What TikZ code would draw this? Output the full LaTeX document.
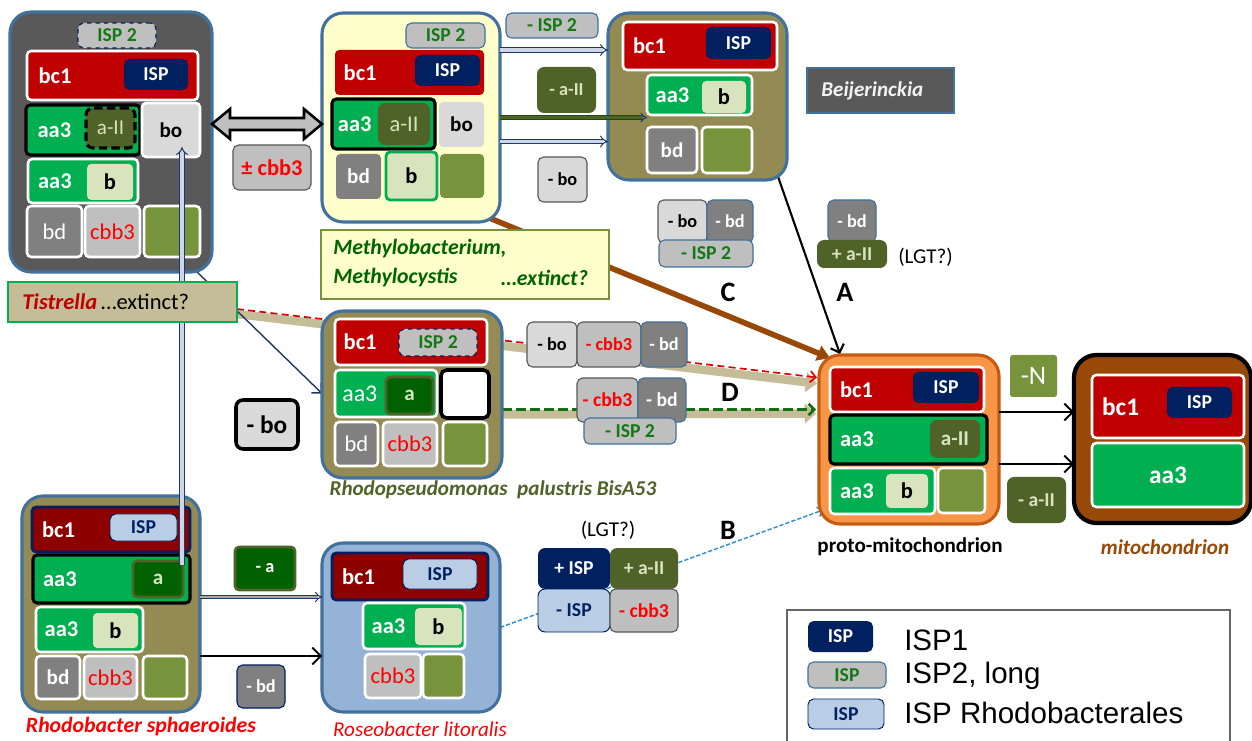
\documentclass[tikz,border=0pt]{standalone}
\usepackage{fontspec}
\setmainfont{Carlito}
\newfontfamily\arialf{Liberation Sans}
\usetikzlibrary{arrows.meta,calc}
\newcommand\fsz[1]{\fontsize{#1}{#1}\selectfont}
\newcommand\bx[7]{\node[#1, minimum width={(#4-#2)*0.025cm}, minimum height={(#5-#3)*0.025cm}] (#6) at ({(#2+#4)/2},{(#3+#5)/2}) {#7};}
\pgfdeclarelayer{back}
\pgfdeclarelayer{bg}
\pgfsetlayers{back,bg,main}
\definecolor{bord}{RGB}{65,113,156}
\definecolor{dgray}{RGB}{89,89,89}
\definecolor{cred}{RGB}{192,0,0}
\definecolor{navy}{RGB}{0,32,96}
\definecolor{cgreen}{RGB}{0,176,80}
\definecolor{dolive}{RGB}{79,98,40}
\definecolor{lgreen}{RGB}{215,228,189}
\definecolor{lgray}{RGB}{217,217,217}
\definecolor{mgray}{RGB}{128,128,128}
\definecolor{sgray}{RGB}{191,191,191}
\definecolor{olsq}{RGB}{119,147,60}
\definecolor{tanb}{RGB}{148,138,84}
\definecolor{lyellow}{RGB}{255,255,204}
\definecolor{sand}{RGB}{196,189,151}
\definecolor{dred}{RGB}{140,0,0}
\definecolor{lblue}{RGB}{185,205,229}
\definecolor{rblue}{RGB}{149,179,215}
\definecolor{orng}{RGB}{247,150,70}
\definecolor{orbd}{RGB}{197,90,17}
\definecolor{brwn}{RGB}{152,72,7}
\definecolor{dkgreen}{RGB}{0,97,0}
\definecolor{ispgreen}{RGB}{20,120,20}
\definecolor{methgreen}{RGB}{0,100,0}
\definecolor{alight}{RGB}{215,228,189}
\definecolor{dotblue}{RGB}{46,139,216}
\definecolor{dblue}{RGB}{31,56,100}
\definecolor{pale}{RGB}{205,214,232}
\definecolor{txred}{RGB}{255,0,0}
\definecolor{dashgreen}{RGB}{20,110,20}
\tikzset{
 cell/.style={inner sep=0pt, outer sep=0pt, rounded corners=3pt, font=\bfseries\fsz{15}},
 org/.style={cell, draw=bord, line width=2.2pt, rounded corners=15pt},
 wb/.style={cell, draw=white, line width=1.8pt},
 blk/.style={cell, draw=black, line width=2.2pt},
 navybd/.style={cell, draw=navy, line width=2pt},
 ispbox/.style={cell, fill=navy, text=white, rounded corners=4pt, font=\bfseries\fsz{14}},
 lispbox/.style={cell, fill=lblue, draw=navy, line width=0.7pt, text=navy, rounded corners=4pt, font=\bfseries\fsz{14}},
 sbox/.style={cell, fill=sgray, draw=bord, line width=0.8pt, text=ispgreen, rounded corners=4pt, font=\bfseries\fsz{14}},
 dashbox/.style={sbox, draw=navy, dashed},
 aii/.style={cell, fill=dolive, text=alight, rounded corners=5pt, font=\bfseries\fsz{14}},
 abox/.style={cell, fill=dkgreen, draw=dolive, line width=2pt, text=alight, font=\bfseries\fsz{15}},
 bbox/.style={cell, fill=lgreen, text=black, font=\bfseries\fsz{16}},
 gbox/.style={cell, draw=black!65, line width=0.8pt, rounded corners=4pt, font=\bfseries\fsz{13}},
 wlab/.style={anchor=west, inner sep=0pt, text=white, font=\bfseries\fsz{16}},
 wreg/.style={text=white, font=\fsz{16}},
 rreg/.style={text=txred, font=\fsz{16}},
 letter/.style={inner sep=0pt, font=\bfseries\fsz{20}},
 methtxt/.style={anchor=west, inner sep=0pt, text=methgreen, font=\bfseries\itshape\fsz{15.5}},
 dblarrow/.style={draw=dblue, line width=0.7pt, double=pale, double distance=2.2pt, -{Implies}},
 barb/.style={-{Straight Barb[length=5pt,width=10pt]}},
}
\begin{document}
\begin{tikzpicture}[x=0.025cm, y=-0.025cm]
\useasboundingbox (0,0) rectangle (1252,741);
\begin{pgfonlayer}{back}
\fill[white] (0,0) rectangle (1252,741);
\end{pgfonlayer}

% ---------- top-left organism ----------
\bx{org, fill=dgray}{10}{12}{212}{272}{tl}{}
\bx{dashbox}{78}{23}{156}{48}{tlisptwo}{ISP 2}
\bx{wb, fill=cred}{27}{51}{198}{100}{tlbc}{}
\node[wlab] (tlbct) at ([xshift=8pt]tlbc.west) {bc1};
\bx{ispbox}{124}{59}{188}{90}{tlisp}{ISP}
\bx{blk, fill=cgreen}{26}{105}{140}{155}{tlaa}{}
\node[wlab] (tlaat) at ([xshift=8pt]tlaa.west) {aa3};
\bx{aii, draw=black, line width=2.2pt, dash pattern=on 6pt off 3pt, font=\fsz{15}}{86}{108}{135}{148}{tlaii}{a-II}
\bx{wb, fill=lgray, text=black}{142}{103}{200}{157}{tlbo}{bo}
\bx{wb, fill=cgreen}{28}{159}{138}{203}{tlaatwo}{}
\node[wlab] (tlaatwot) at ([xshift=7pt]tlaatwo.west) {aa3};
\bx{bbox}{87}{164}{133}{200}{tlb}{b}
\bx{wb, fill=mgray, wreg}{27}{206}{82}{257}{tlbd}{bd}
\bx{wb, fill=sgray, rreg}{85}{206}{140}{257}{tlcbb}{cbb3}
\bx{wb, fill=olsq}{144}{206}{200}{257}{tlol}{}

\bx{gbox, fill=sgray, text=txred, font=\bfseries\fsz{16}}{233}{145}{311}{190}{pmcbb}{± cbb3}

% ---------- top-middle organism ----------
\bx{org, fill=lyellow}{322}{13}{500}{222}{tm}{}
\bx{sbox}{406}{23}{485}{48}{tmisptwo}{ISP 2}
\bx{cell, fill=cred}{335}{50}{484}{95}{tmbc}{}
\node[wlab] (tmbct) at ([xshift=6pt]tmbc.west) {bc1};
\bx{ispbox}{415}{55}{480}{86}{tmisp}{ISP}
\bx{blk, fill=cgreen}{332}{99}{435}{149}{tmaa}{}
\node[wlab] (tmaat) at ([xshift=4pt]tmaa.west) {aa3};
\bx{aii, font=\fsz{16}}{378}{103}{430}{145}{tmaii}{a-II}
\bx{cell, fill=lgray, text=black}{439}{102}{484}{147}{tmbo}{bo}
\bx{cell, fill=mgray, text=white}{336}{154}{381}{199}{tmbd}{bd}
\bx{bbox, draw=cgreen, line width=2pt}{386}{152}{437}{200}{tmb}{b}
\bx{cell, fill=olsq}{440}{154}{484}{198}{tmol}{}

\bx{sbox}{506}{13}{598}{38}{cisptwo}{- ISP 2}
\bx{aii, font=\bfseries\fsz{13}}{537}{67}{596}{113}{caii}{- a-II}
\bx{gbox, fill=lgray}{538}{157}{587}{202}{cbo}{- bo}

\bx{cell, fill=lyellow, draw=olsq, line width=0.8pt, rounded corners=0pt}{321}{230}{609}{299}{meth}{}
\node[methtxt] (metha) at (333,249) {Methylobacterium,};
\node[methtxt] (methb) at (333,278) {Methylocystis};
\node[methtxt] (methc) at (501,278) {…extinct?};

% ---------- Beijerinckia ----------
\bx{org, fill=tanb}{608}{13}{787}{180}{bj}{}
\bx{wb, fill=cred}{623}{22}{777}{70}{bjbc}{}
\node[wlab] (bjbct) at ([xshift=7pt]bjbc.west) {bc1};
\bx{ispbox}{706}{27}{771}{59}{bjisp}{ISP}
\bx{wb, fill=cgreen}{647}{75}{752}{115}{bjaa}{}
\node[wlab] (bjaat) at ([xshift=6pt]bjaa.west) {aa3};
\bx{bbox}{702}{81}{746}{113}{bjb}{b}
\bx{wb, fill=mgray, text=white}{647}{127}{697}{173}{bjbd}{bd}
\bx{wb, fill=olsq}{702}{127}{752}{173}{bjol}{}
\bx{cell, fill=dgray, draw=bord, line width=2pt, rounded corners=0pt}{807}{68}{954}{113}{bjlab}{}
\node[anchor=west, inner sep=0pt, text=black!5, font=\bfseries\itshape\fsz{15}] (bjlabt) at ([xshift=10pt]bjlab.west) {Beijerinckia};

% C group
\bx{gbox, fill=lgray}{658}{200}{707}{243}{cbotwo}{- bo}
\bx{gbox, fill=mgray, draw=bord, text=white}{707}{200}{753}{243}{cbdtwo}{- bd}
\bx{sbox}{659}{240}{753}{267}{cispthree}{- ISP 2}
% A group
\bx{gbox, fill=mgray, draw=bord, text=white}{828}{200}{876}{242}{abd}{- bd}
\bx{aii, font=\bfseries\fsz{14}}{817}{240}{887}{268}{aaii}{+ a-II}
\node[anchor=west, inner sep=0pt, font=\fsz{15}] (algt) at (898,257) {(LGT?)};

\node[letter] (lC) at (728,292) {C};
\node[letter] (lA) at (845,292) {A};
\node[letter] (lD) at (730,392) {D};
\node[letter] (lB) at (728,530) {B};

% ---------- Rhodopseudomonas ----------
\bx{org, fill=tanb}{322}{311}{502}{478}{rp}{}
\bx{wb, fill=cred}{335}{319}{487}{365}{rpbc}{}
\node[wlab] (rpbct) at ([xshift=6pt]rpbc.west) {bc1};
\bx{dashbox}{399}{329}{477}{356}{rpisptwo}{ISP 2}
\bx{wb, fill=cgreen}{335}{370}{437}{417}{rpaa}{}
\node[wlab, font=\fsz{17}] (rpaat) at ([xshift=5pt]rpaa.west) {aa3};
\bx{abox}{386}{377}{433}{414}{rpa}{a}
\bx{cell, fill=white, draw=black, line width=2.5pt, rounded corners=4pt}{441}{370}{489}{418}{rpw}{}
\bx{wb, fill=mgray, wreg}{335}{422}{378}{466}{rpbd}{bd}
\bx{wb, fill=sgray, rreg}{383}{422}{437}{466}{rpcbb}{cbb3}
\bx{wb, fill=olsq}{443}{422}{487}{466}{rpol}{}
\node[inner sep=0pt, text=dolive, font=\bfseries\itshape\fsz{15}] (rplab) at (493,490) {Rhodopseudomonas\ \ palustris BisA53};

\bx{cell, fill=lgray, draw=black, line width=2.5pt, rounded corners=5pt, font=\bfseries\fsz{18}}{236}{400}{298}{449}{bigbo}{- bo}

% D groups
\bx{gbox, fill=lgray}{527}{322}{577}{367}{dbo}{- bo}
\bx{gbox, fill=sgray, text=txred}{577}{322}{641}{367}{dcbb}{- cbb3}
\bx{gbox, fill=mgray, draw=bord, text=white}{641}{322}{687}{367}{dbd}{- bd}
\bx{gbox, fill=sgray, text=txred, font=\bfseries\fsz{14}}{577}{378}{638}{422}{dcbbtwo}{- cbb3}
\bx{gbox, fill=mgray, draw=bord, text=white, font=\bfseries\fsz{14}}{638}{378}{686}{422}{dbdtwo}{- bd}
\bx{sbox}{584}{418}{676}{444}{disptwo}{- ISP 2}

% ---------- proto-mitochondrion ----------
\bx{org, fill=orng, draw=orbd}{819}{355}{999}{524}{pm}{}
\bx{wb, fill=cred}{830}{367}{984}{412}{pmbc}{}
\node[wlab] (pmbct) at ([xshift=7pt]pmbc.west) {bc1};
\bx{ispbox}{913}{372}{979}{403}{pmisp}{ISP}
\bx{blk, fill=cgreen}{830}{415}{987}{464}{pmaa}{}
\node[wlab] (pmaat) at ([xshift=7pt]pmaa.west) {aa3};
\bx{aii, font=\bfseries\fsz{15}}{930}{420}{980}{458}{pmaii}{a-II}
\bx{wb, fill=cgreen}{830}{468}{935}{514}{pmaatwo}{}
\node[wlab] (pmaatwot) at ([xshift=7pt]pmaatwo.west) {aa3};
\bx{bbox}{886}{474}{928}{508}{pmb}{b}
\bx{wb, fill=olsq}{938}{468}{985}{513}{pmol}{}
\node[inner sep=0pt, font=\bfseries\fsz{15}] (pmlab) at (910,547) {proto-mitochondrion};

\bx{cell, fill=olsq, rounded corners=2pt, text=white, font=\fsz{19}}{1010}{355}{1057}{397}{nN}{-N}
\bx{aii, font=\bfseries\fsz{14}}{1007}{477}{1066}{523}{pmaiitwo}{- a-II}

% ---------- mitochondrion ----------
\bx{cell, fill=brwn, draw=black, line width=3pt, rounded corners=16pt}{1074}{355}{1251}{523}{mt}{}
\bx{wb, fill=cred}{1092}{375}{1244}{438}{mtbc}{}
\node[wlab, font=\bfseries\fsz{18}] (mtbct) at ([xshift=7pt]mtbc.west) {bc1};
\bx{ispbox}{1167}{387}{1232}{418}{mtisp}{ISP}
\bx{wb, fill=cgreen, text=white, font=\bfseries\fsz{18}}{1092}{443}{1244}{507}{mtaa}{aa3}
\node[inner sep=0pt, text=brwn, font=\bfseries\itshape\fsz{15}] (mtlab) at (1165,547) {mitochondrion};

% ---------- Rhodobacter sphaeroides ----------
\bx{org, fill=tanb}{22}{496}{200}{712}{rs}{}
\bx{navybd, fill=dred}{32}{507}{190}{552}{rsbc}{}
\node[wlab] (rsbct) at ([xshift=7pt]rsbc.west) {bc1};
\bx{lispbox}{110}{514}{177}{541}{rsisp}{ISP}
\bx{blk, fill=cgreen}{33}{555}{190}{603}{rsaa}{}
\node[wlab] (rsaat) at ([xshift=7pt]rsaa.west) {aa3};
\bx{abox}{133}{561}{183}{597}{rsa}{a}
\bx{wb, fill=cgreen}{36}{607}{143}{652}{rsaatwo}{}
\node[wlab] (rsaatwot) at ([xshift=6pt]rsaatwo.west) {aa3};
\bx{bbox}{93}{613}{138}{648}{rsb}{b}
\bx{wb, fill=mgray, text=white}{36}{656}{80}{699}{rsbd}{bd}
\bx{wb, fill=sgray, rreg}{84}{656}{137}{699}{rscbb}{cbb3}
\bx{wb, fill=olsq}{143}{656}{187}{699}{rsol}{}
\node[inner sep=0pt, text=txred, font=\bfseries\itshape\fsz{15.5}] (rslab) at (141,727) {Rhodobacter sphaeroides};

\bx{abox, text=white, font=\bfseries\fsz{13}}{235}{547}{295}{590}{ma}{- a}
\bx{gbox, fill=mgray, draw=navy, text=white}{237}{665}{285}{708}{mbd}{- bd}

% ---------- Roseobacter ----------
\bx{org, fill=rblue}{322}{543}{500}{712}{ro}{}
\bx{navybd, fill=dred}{332}{553}{488}{600}{robc}{}
\node[wlab] (robct) at ([xshift=7pt]robc.west) {bc1};
\bx{lispbox}{403}{559}{477}{589}{roisp}{ISP}
\bx{wb, fill=cgreen}{363}{603}{465}{649}{roaa}{}
\node[wlab] (roaat) at ([xshift=6pt]roaa.west) {aa3};
\bx{bbox}{415}{608}{462}{645}{rob}{b}
\bx{wb, fill=sgray, rreg}{365}{654}{421}{698}{rocbb}{cbb3}
\bx{wb, fill=olsq}{423}{654}{464}{698}{rool}{}
\node[inner sep=0pt, text=txred, font=\itshape\fsz{15}] (rolab) at (420,729) {Roseobacter litoralis};

% LGT group
\node[inner sep=0pt, font=\fsz{15}] (blgt) at (608,530) {(LGT?)};
\bx{cell, fill=navy, text=white, rounded corners=5pt, font=\bfseries\fsz{14}}{538}{548}{610}{589}{lisp}{+ ISP}
\bx{aii, font=\bfseries\fsz{14}}{610}{548}{678}{589}{laii}{+ a-II}
\bx{lispbox, rounded corners=5pt}{538}{589}{610}{632}{lmisp}{- ISP}
\bx{gbox, fill=sgray, text=txred, font=\bfseries\fsz{14}}{610}{589}{678}{632}{lcbb}{- cbb3}

% ---------- legend ----------
\bx{cell, fill=white, draw=black!60, line width=0.9pt, rounded corners=0pt}{787}{610}{1230}{770}{leg}{}
\bx{ispbox}{808}{621}{873}{652}{lgone}{ISP}
\bx{sbox}{808}{662}{886}{688}{lgtwo}{ISP}
\bx{lispbox}{808}{699}{884}{729}{lgthree}{ISP}
\node[anchor=west, inner sep=0pt, font=\arialf\fsz{21}] (lgonet) at (904,640) {ISP1};
\node[anchor=west, inner sep=0pt, font=\arialf\fsz{21}] (lgtwot) at (904,676) {ISP2, long};
\node[anchor=west, inner sep=0pt, font=\arialf\fsz{21}] (lgthreet) at (904,713) {ISP Rhodobacterales};

% ---------- connectors (front) ----------
\coordinate (dA) at (tl.east |- tmaa.west);
\coordinate (dB) at (tm.west |- tmaa.west);
\draw[black, line width=1.8pt, fill=sgray, miter limit=10]
  (dA) -- ($(dA)+(18,-15)$) -- ($(dA)+(18,-6)$) -- ($(dB)+(-18,-6)$) -- ($(dB)+(-18,-15)$) -- (dB)
  -- ($(dB)+(-18,15)$) -- ($(dB)+(-18,6)$) -- ($(dA)+(18,6)$) -- ($(dA)+(18,15)$) -- cycle;
\draw[dblarrow] (tmbc.north -| tm.east) -- (tmbc.north -| bj.west);
\draw[draw=dblue, line width=0.7pt, double=dolive, double distance=1.6pt, -{Implies}] (tm.east) -- (bjaa.west |- tm.east);
\draw[dblarrow] ($(tm.east)+(0,24)$) -- ($(bj.west |- tm.east)+(0,24)$);
\draw[black, line width=1.3pt, -{Straight Barb[length=6pt,width=12pt]}] (pmbc.south -| pm.east) -- (pmbc.south -| mt.west);
\draw[black, line width=1.3pt, -{Straight Barb[length=6pt,width=12pt]}] (pmaa.south -| pm.east) -- (pmaa.south -| mt.west);
\draw[draw=dblue, line width=0.7pt, double=sand!70!gray, double distance=1.8pt, -{Implies}] (rs.east |- rsa.south) -- (ro.west |- rsa.south);
\draw[black, line width=1.3pt, -{Straight Barb[length=6pt,width=12pt]}] (rs.east |- rsbd.north) -- (ro.west |- rsbd.north);
\draw[dblarrow] ($(rsa.north east)+(-1,4)$) -- ($(tlbo.south -| rsa.north east)+(-1,-10)$);

% ---------- Tistrella label (above the vertical connector) ----------
\bx{cell, fill=sand, draw=cgreen, line width=1pt, rounded corners=0pt}{8}{282}{237}{322}{tis}{}
\node[anchor=west, inner sep=0pt, font=\fsz{16}] (tist) at ([xshift=10pt]tis.west) {\textcolor{cred}{\bfseries\itshape Tistrella}\,…extinct?};

% ---------- connectors (background) ----------
\begin{pgfonlayer}{bg}
 % Tistrella band (red dashed) to proto-mito
 \draw[sand, line width=6pt, -{Triangle[length=8pt,width=14pt]}] ($(tis.east)+(0,12)$) -- ($(pmbc.west)+(-13,-6)$);
 \draw[txred!85!black, line width=1.2pt, dash pattern=on 5pt off 3pt, -{Straight Barb[length=4pt,width=8pt]}] ($(tis.east)+(0,7)$) -- ($(pmbc.west)+(-13,-12)$);
 % Rhodopseudomonas band (green dashed)
 \draw[sand, line width=6pt, -{Triangle[length=8pt,width=14pt]}] ($(rp.east)+(0,20)$) -- ($(pm.west)+(-3,-26)$);
 \draw[dashgreen, line width=1.8pt, dash pattern=on 7pt off 3pt, -{Straight Barb[length=4pt,width=8pt]}] ($(rp.east)+(0,15)$) -- ($(pm.west)+(-3,-30)$);
 % tl -> rp
 \draw[dblue, line width=1pt, barb] ($(tl.south east)+(-17,-2)$) -- (rp.west |- rpaa.center);
 % brown C
 \draw[brwn, line width=4pt, -{Triangle[length=9pt,width=11pt]}] ($(tm.south east)+(-13,-5)$) -- ($(pm.north west)+(11,3)$);
 % black A
 \draw[black, line width=1.5pt, barb] ($(bj.south east)+(-12,-12)$) -- ($(pm.north west)+(21,-1)$);
 % blue dotted B
 \draw[dotblue, line width=1pt, dash pattern=on 3pt off 1.5pt, -{Straight Barb[length=3pt,width=7pt]}] (ro.east) -- ($(pm.south west)+(4,-14)$);
\end{pgfonlayer}
\end{tikzpicture}
\end{document}
